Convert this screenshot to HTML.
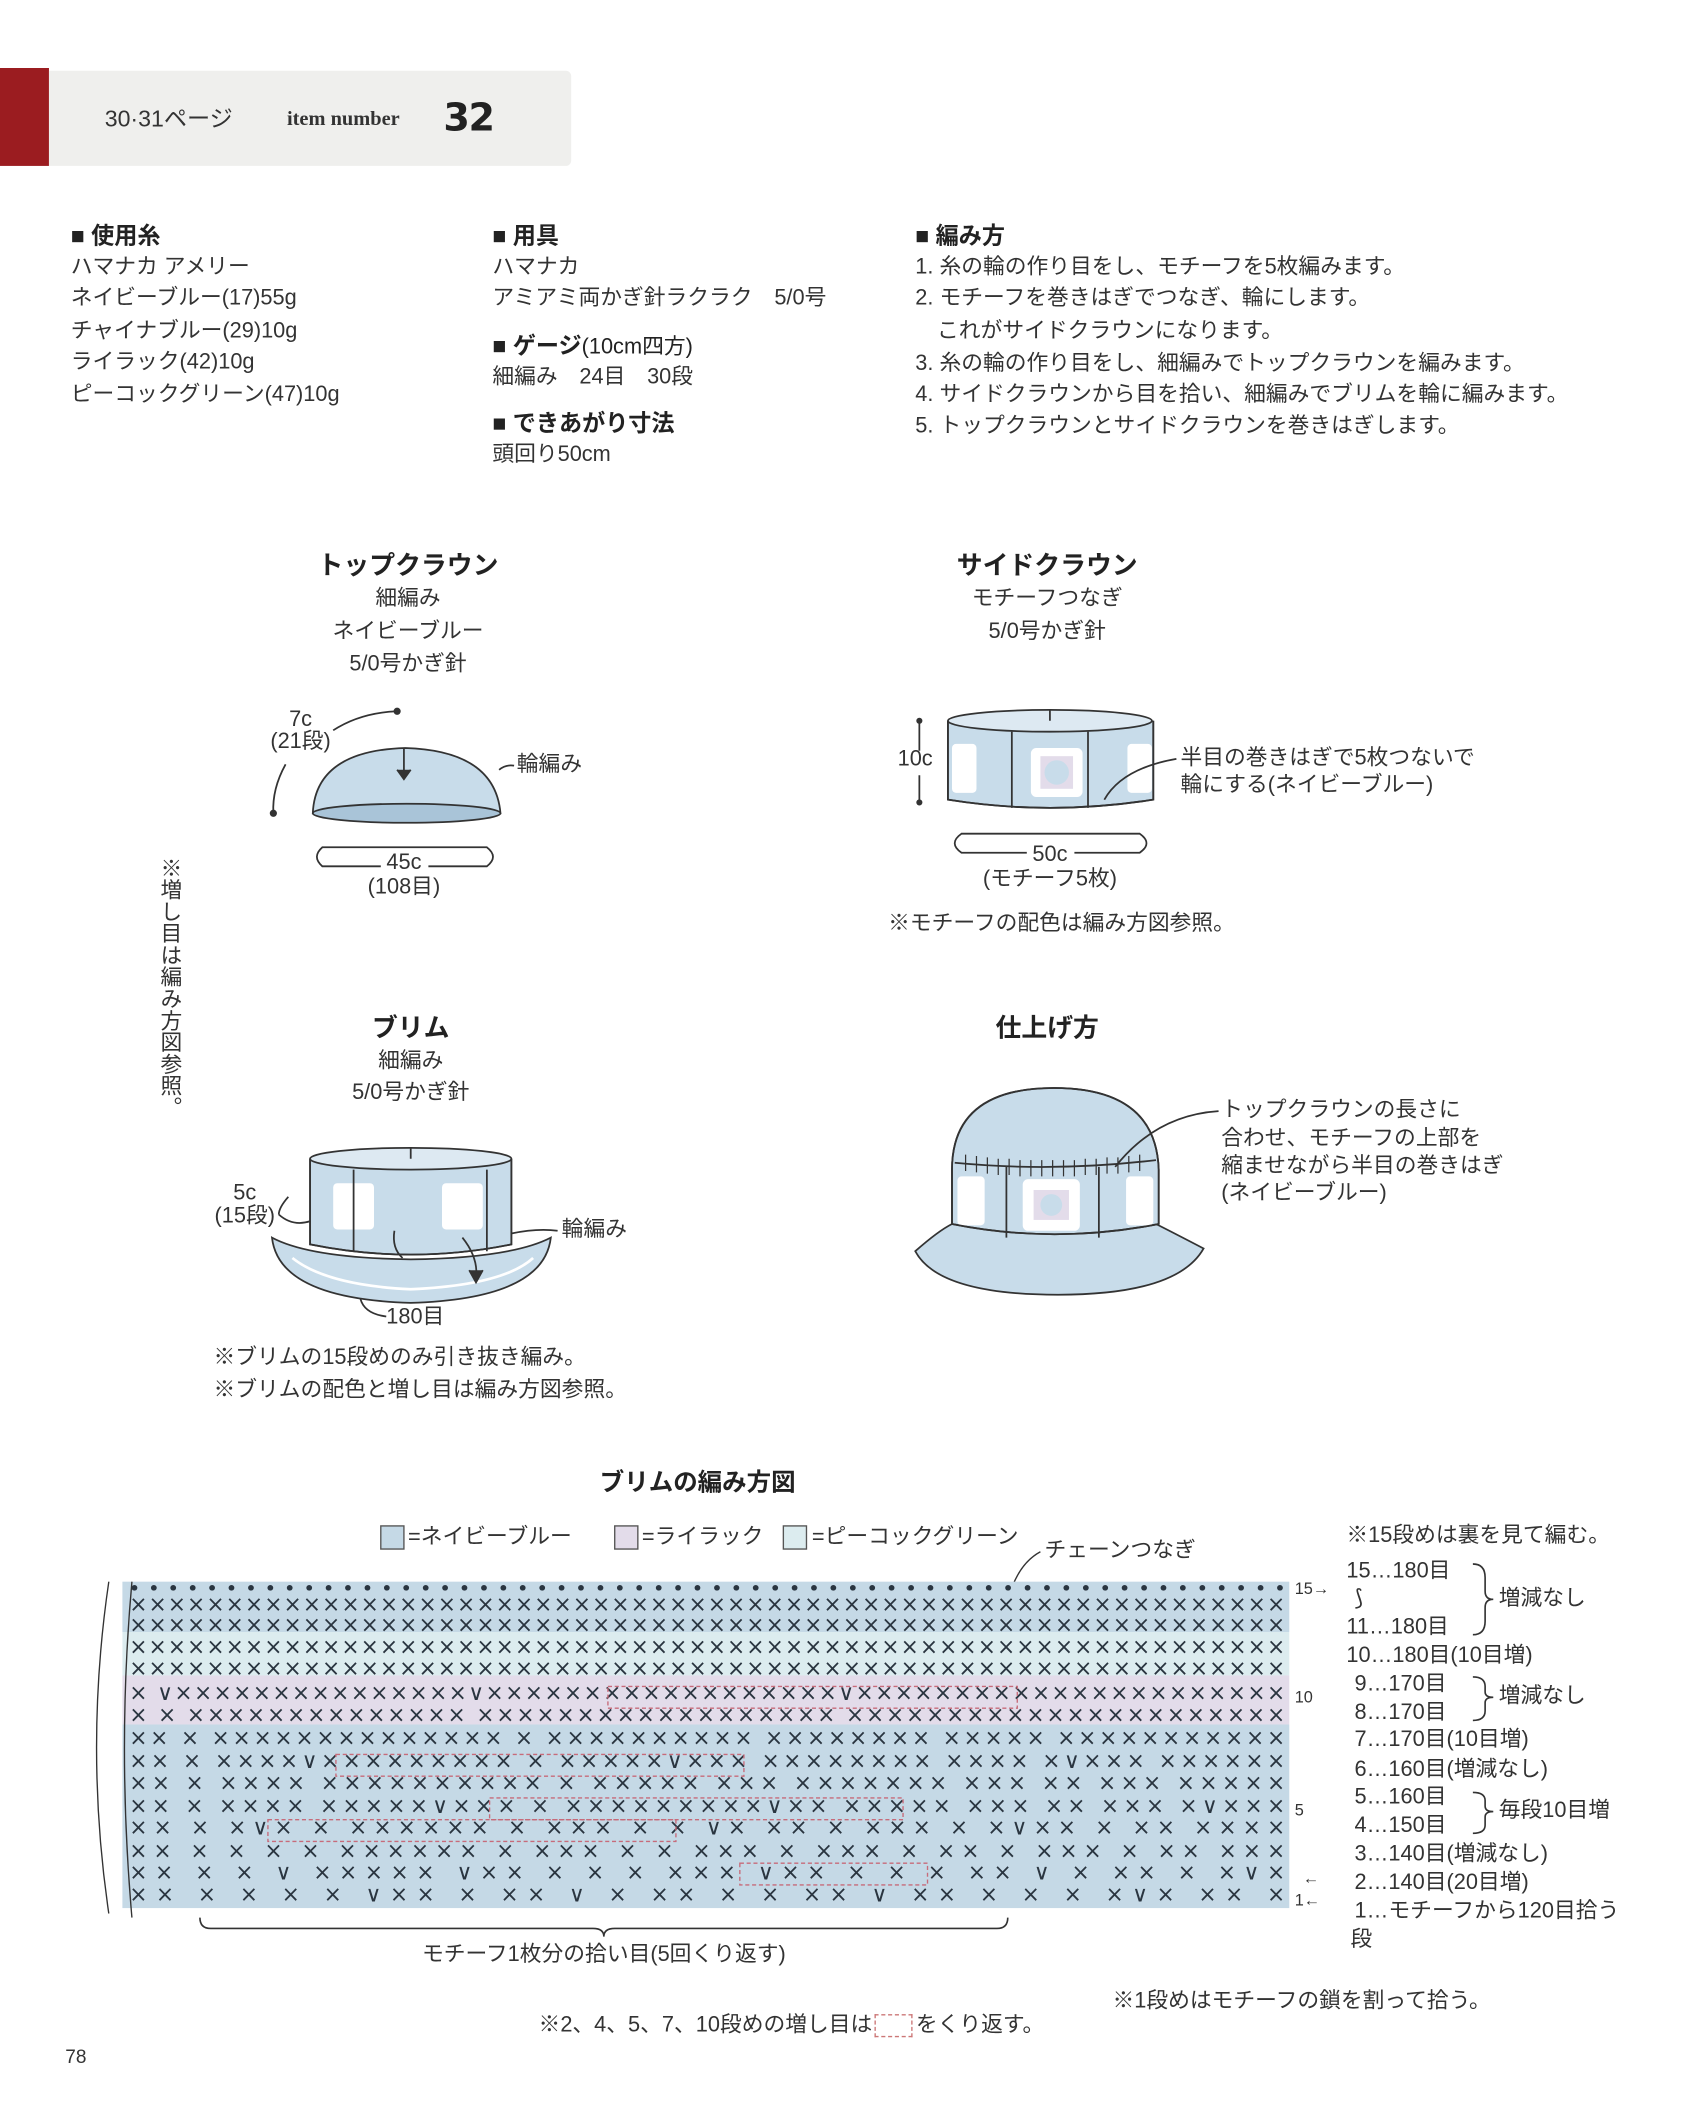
<!DOCTYPE html>
<html><head><meta charset="utf-8"><style>
html,body{margin:0;padding:0;background:#fff;}
#w{width:1250px;height:1562.5px;position:relative;transform:scale(1.36);transform-origin:0 0;font-family:"Liberation Sans","Noto Sans CJK JP",sans-serif;color:#333;}
.t{position:absolute;white-space:nowrap;font-size:16px;line-height:1;}
.b{font-weight:bold;font-size:17px;color:#222;}
.c{transform:translateX(-50%);text-align:center;}
.h{font-weight:bold;font-size:19px;color:#222;}
svg{position:absolute;left:0;top:0;}
</style></head><body><div id="w">
<div style="position:absolute;left:0;top:50px;width:36px;height:72px;background:#9b1c20"></div>
<div style="position:absolute;left:36px;top:52px;width:384px;height:70px;background:#efefed;border-radius:0 4px 4px 0"></div>
<div class="t" style="left:77px;top:79px;font-size:17px">30·31ページ</div>
<div class="t" style="left:211px;top:81px;font-family:'Liberation Serif',serif;font-weight:bold;font-size:15px">item number</div>
<div class="t" style="left:326px;top:73px;font-family:'DejaVu Sans',sans-serif;font-weight:900;font-size:28px;color:#222;letter-spacing:-1px">32</div>

<div class="t b" style="left:52px;top:165px">■ 使用糸</div>
<div class="t" style="left:52px;top:189px">ハマナカ アメリー</div>
<div class="t" style="left:52px;top:212px">ネイビーブルー(17)55g</div>
<div class="t" style="left:52px;top:236px">チャイナブルー(29)10g</div>
<div class="t" style="left:52px;top:259px">ライラック(42)10g</div>
<div class="t" style="left:52px;top:283px">ピーコックグリーン(47)10g</div>

<div class="t b" style="left:362px;top:165px">■ 用具</div>
<div class="t" style="left:362px;top:189px">ハマナカ</div>
<div class="t" style="left:362px;top:212px">アミアミ両かぎ針ラクラク　5/0号</div>
<div class="t b" style="left:362px;top:246px">■ ゲージ<span style="font-weight:normal;font-size:16px">(10cm四方)</span></div>
<div class="t" style="left:362px;top:270px">細編み　24目　30段</div>
<div class="t b" style="left:362px;top:303px">■ できあがり寸法</div>
<div class="t" style="left:362px;top:327px">頭回り50cm</div>

<div class="t b" style="left:673px;top:165px">■ 編み方</div>
<div class="t" style="left:673px;top:189px">1. 糸の輪の作り目をし、モチーフを5枚編みます。</div>
<div class="t" style="left:673px;top:212px">2. モチーフを巻きはぎでつなぎ、輪にします。</div>
<div class="t" style="left:673px;top:236px">　これがサイドクラウンになります。</div>
<div class="t" style="left:673px;top:260px">3. 糸の輪の作り目をし、細編みでトップクラウンを編みます。</div>
<div class="t" style="left:673px;top:283px">4. サイドクラウンから目を拾い、細編みでブリムを輪に編みます。</div>
<div class="t" style="left:673px;top:306px">5. トップクラウンとサイドクラウンを巻きはぎします。</div>

<div class="t h c" style="left:300px;top:407px">トップクラウン</div>
<div class="t c" style="left:300px;top:433px">細編み</div>
<div class="t c" style="left:300px;top:457px">ネイビーブルー</div>
<div class="t c" style="left:300px;top:481px">5/0号かぎ針</div>
<div class="t h c" style="left:770px;top:407px">サイドクラウン</div>
<div class="t c" style="left:770px;top:433px">モチーフつなぎ</div>
<div class="t c" style="left:770px;top:457px">5/0号かぎ針</div>

<div class="t" style="left:115px;top:630px;writing-mode:vertical-rl;font-size:16px">※増し目は編み方図参照。</div>

<div class="t c" style="left:221px;top:522px">7c</div>
<div class="t c" style="left:221px;top:538px">(21段)</div>
<div class="t" style="left:380px;top:555px">輪編み</div>
<div class="t c" style="left:297px;top:627px">45c</div>
<div class="t c" style="left:297px;top:645px">(108目)</div>

<div class="t" style="left:660px;top:551px">10c</div>
<div class="t" style="left:868px;top:550px">半目の巻きはぎで5枚つないで</div>
<div class="t" style="left:868px;top:570px">輪にする(ネイビーブルー)</div>
<div class="t c" style="left:772px;top:621px">50c</div>
<div class="t c" style="left:772px;top:639px">(モチーフ5枚)</div>
<div class="t" style="left:653px;top:672px">※モチーフの配色は編み方図参照。</div>

<div class="t h c" style="left:302px;top:747px">ブリム</div>
<div class="t c" style="left:302px;top:773px">細編み</div>
<div class="t c" style="left:302px;top:796px">5/0号かぎ針</div>
<div class="t h c" style="left:770px;top:747px">仕上げ方</div>

<div class="t c" style="left:180px;top:870px">5c</div>
<div class="t c" style="left:180px;top:887px">(15段)</div>
<div class="t c" style="left:296px;top:876px;background:#c8dcea">120目</div>
<div class="t c" style="left:296px;top:894px">拾う</div>
<div class="t" style="left:413px;top:897px">輪編み</div>
<div class="t" style="left:284px;top:961px">180目</div>
<div class="t" style="left:157px;top:991px">※ブリムの15段めのみ引き抜き編み。</div>
<div class="t" style="left:157px;top:1015px">※ブリムの配色と増し目は編み方図参照。</div>

<div class="t" style="left:898px;top:809px">トップクラウンの長さに</div>
<div class="t" style="left:898px;top:830px">合わせ、モチーフの上部を</div>
<div class="t" style="left:898px;top:850px">縮ませながら半目の巻きはぎ</div>
<div class="t" style="left:898px;top:870px">(ネイビーブルー)</div>

<div class="t b c" style="left:513px;top:1081px;font-size:18px">ブリムの編み方図</div>
<div class="t" style="left:300px;top:1123px">=ネイビーブルー</div>
<div class="t" style="left:472px;top:1123px">=ライラック</div>
<div class="t" style="left:597px;top:1123px">=ピーコックグリーン</div>
<div class="t" style="left:768px;top:1133px">チェーンつなぎ</div>

<div class="t" style="left:990px;top:1122px">※15段めは裏を見て編む。</div>
<div class="t" style="left:990px;top:1148px">15…180目</div>
<div class="t" style="left:996px;top:1168px">⟆</div>
<div class="t" style="left:990px;top:1189px">11…180目</div>
<div class="t" style="left:990px;top:1210px">10…180目(10目増)</div>
<div class="t" style="left:996px;top:1231px">9…170目</div>
<div class="t" style="left:996px;top:1252px">8…170目</div>
<div class="t" style="left:996px;top:1272px">7…170目(10目増)</div>
<div class="t" style="left:996px;top:1294px">6…160目(増減なし)</div>
<div class="t" style="left:996px;top:1314px">5…160目</div>
<div class="t" style="left:996px;top:1335px">4…150目</div>
<div class="t" style="left:996px;top:1356px">3…140目(増減なし)</div>
<div class="t" style="left:996px;top:1377px">2…140目(20目増)</div>
<div class="t" style="left:996px;top:1398px">1…モチーフから120目拾う</div>
<div class="t" style="left:993px;top:1419px">段</div>
<div class="t" style="left:1102px;top:1168px">増減なし</div>
<div class="t" style="left:1102px;top:1240px">増減なし</div>
<div class="t" style="left:1102px;top:1324px">毎段10目増</div>

<div class="t" style="left:952px;top:1162px;font-size:12px">15→</div>
<div class="t" style="left:952px;top:1242px;font-size:12px">10</div>
<div class="t" style="left:952px;top:1325px;font-size:12px">5</div>
<div class="t" style="left:958px;top:1375px;font-size:12px">←</div>
<div class="t" style="left:952px;top:1391px;font-size:12px">1←</div>

<div class="t c" style="left:444px;top:1430px">モチーフ1枚分の拾い目(5回くり返す)</div>
<div class="t" style="left:818px;top:1464px">※1段めはモチーフの鎖を割って拾う。</div>
<div class="t" style="left:396px;top:1481px">※2、4、5、7、10段めの増し目は<span style="display:inline-block;width:26px;height:15px;border:1px dashed #c77;vertical-align:middle;margin:0 2px"></span>をくり返す。</div>
<div class="t" style="left:48px;top:1505px;font-size:14px">78</div>

<svg width="1250" height="1563" viewBox="0 0 1250 1563">
<g stroke="#333" stroke-width="1.3" fill="none">
<path d="M230 598 Q232 552 298 550 Q364 552 368 598 Z" fill="#c8dcea"/>
<ellipse cx="299" cy="598" rx="69" ry="7" fill="#a9c4d8"/>
<path d="M297 550 V572" /><path d="M292 566 L297 573 L302 566" fill="#333"/>
<path d="M245 537 Q265 524 292 523"/><circle cx="292" cy="523" r="2" fill="#333"/>
<path d="M210 562 Q200 580 201 598"/><circle cx="201" cy="598" r="2" fill="#333"/>
<path d="M367 566 Q372 562 378 563"/>
<path d="M280 637 H237 Q229 630 237 623 H358 Q367 630 358 637 H315"/>
<path d="M697 530 V588 Q772 600 848 588 V530" fill="#c8dcea"/>
<ellipse cx="772" cy="530" rx="75" ry="8" fill="#dde9f2"/>
<rect x="758" y="550" width="38" height="36" rx="4" fill="#fff" stroke="none"/>
<rect x="765" y="556" width="24" height="24" fill="#e3dcea" stroke="none"/>
<circle cx="777" cy="568" r="9" fill="#c8dcea" stroke="none"/>
<rect x="700" y="547" width="18" height="36" rx="3" fill="#fff" stroke="none"/>
<rect x="829" y="547" width="18" height="36" rx="3" fill="#fff" stroke="none"/>
<path d="M697 530 V588 Q772 600 848 588 V530"/>
<path d="M744 538 V594 M800 538 V594 M772 522 V530"/>
<path d="M812 588 Q825 565 865 558"/>
<path d="M676 530 V552 M676 570 V590"/><circle cx="676" cy="530" r="1.6" fill="#333"/><circle cx="676" cy="590" r="1.6" fill="#333"/>
<path d="M755 627 H707 Q697 620 707 613 H838 Q848 620 838 627 H790"/>
<path d="M200 910 Q205 955 302 958 Q400 955 405 910 Q376 925 302 926 Q228 925 200 910Z" fill="#c8dcea"/>
<path d="M215 925 Q240 945 302 948 Q370 945 392 925" stroke="#fff" stroke-width="2"/>
<path d="M228 852 V915 Q302 930 376 915 V852" fill="#c8dcea"/>
<ellipse cx="302" cy="852" rx="74" ry="8" fill="#dde9f2"/>
<rect x="245" y="870" width="30" height="34" rx="3" fill="#fff" stroke="none"/>
<rect x="325" y="870" width="30" height="34" rx="3" fill="#fff" stroke="none"/>
<path d="M228 852 V915 Q302 930 376 915 V852"/>
<path d="M260 860 V920 M358 860 V920 M302 844 V852"/>
<path d="M205 893 Q215 902 228 898 M212 880 Q205 888 205 893"/>
<path d="M340 910 Q352 925 350 940"/><path d="M345 934 L350 943 L355 934" fill="#333"/>
<path d="M290 905 Q288 918 296 925"/>
<path d="M376 907 Q395 903 410 905"/>
<path d="M265 955 Q268 966 284 968"/>
<path d="M673 920 Q690 952 778 952 Q866 952 885 918 Q860 905 850 900 L700 900 Q690 905 673 920Z" fill="#c8dcea"/>
<path d="M700 900 V860 Q700 800 775 800 Q850 800 852 860 V900 Q775 915 700 900Z" fill="#c8dcea"/>
<rect x="752" y="867" width="42" height="38" rx="4" fill="#fff" stroke="none"/>
<rect x="760" y="875" width="26" height="22" fill="#e3dcea" stroke="none"/>
<circle cx="773" cy="886" r="8" fill="#c8dcea" stroke="none"/>
<rect x="704" y="865" width="20" height="36" rx="3" fill="#fff" stroke="none"/>
<rect x="828" y="865" width="20" height="36" rx="3" fill="#fff" stroke="none"/>
<path d="M700 900 V860 Q700 800 775 800 Q850 800 852 860 V900"/>
<path d="M702 855 Q775 862 850 853"/>
<path d="M740 858 V910 M808 858 V910"/>
<path d="M710 849 V861 M718 850 V862 M726 851 V863 M734 852 V864 M742 852 V864 M750 853 V865 M758 853 V865 M766 853 V865 M774 853 V865 M782 853 V865 M790 853 V865 M798 852 V864 M806 852 V864 M814 851 V863 M822 851 V863 M830 850 V862 M838 849 V861" stroke-width="0.9"/>
<path d="M700 900 Q775 915 852 900"/>
<path d="M820 858 Q850 820 896 817"/>
</g>
<rect x="280" y="1122" width="17" height="17" fill="#c5d9e6" stroke="#555"/>
<rect x="452" y="1122" width="17" height="17" fill="#e3dcea" stroke="#555"/>
<rect x="576" y="1122" width="17" height="17" fill="#dcecef" stroke="#555"/>
<path d="M745 1165 Q752 1148 765 1141" stroke="#333" fill="none"/>
<rect x="90" y="1163" width="858" height="37" fill="#c5d9e6"/>
<rect x="90" y="1200" width="858" height="32" fill="#dcecef"/>
<rect x="90" y="1232" width="858" height="36" fill="#e3dcea"/>
<rect x="90" y="1268" width="858" height="135" fill="#c5d9e6"/>
<path d="M80 1163 Q62 1285 80 1407 M97 1163 Q86 1285 97 1410" stroke="#333" fill="none"/>
<g font-family="DejaVu Sans,sans-serif" font-size="16" fill="#2a3540" style="white-space:pre" xml:space="preserve">
<text x="95" y="1172" textLength="850" font-size="12" font-weight="bold">••••••••••••••••••••••••••••••••••••••••••••••••••••••••••••</text>
<text x="95" y="1185" textLength="850">××××××××××××××××××××××××××××××××××××××××××××××××××××××××××××</text>
<text x="95" y="1200" textLength="850">××××××××××××××××××××××××××××××××××××××××××××××××××××××××××××</text>
<text x="95" y="1216" textLength="850">××××××××××××××××××××××××××××××××××××××××××××××××××××××××××××</text>
<text x="95" y="1232" textLength="850">××××××××××××××××××××××××××××××××××××××××××××××××××××××××××××</text>
<text x="95" y="1250" textLength="850">× ∨×××××××××××××××∨××××××××××××××××××∨××××××××××××××××××××××</text>
<text x="95" y="1266" textLength="850">× × ×××××××××××××× ×××××××××××××××××× ××××××××××××××××××××××</text>
<text x="95" y="1283" textLength="850">×× × ×××××××××××××× × ×××××××××× ×××××××× ××××× ×××××××××××</text>
<text x="95" y="1300" textLength="850">×× × ××××∨××××××××× × ×××××∨××× ×××××××× ×××× ×∨××× ××××××</text>
<text x="95" y="1316" textLength="850">×× × ×××× ×××××××××× × ××××× ××× ××××××× ××× ×× ××× ×××××</text>
<text x="95" y="1333" textLength="850">×× × ×××× ×××××∨××× × ×××××××××∨×× ××××× ××× ×× ××× ×∨×××</text>
<text x="95" y="1349" textLength="850">×× × ×∨× × ×××××× × ××× × × ∨× ×× × ××× × ×∨×× × ×× ××××</text>
<text x="95" y="1366" textLength="850">×× × × × × ×××××× × ××× × × ××× × ××× × ×× × ××× × ×× ×××</text>
<text x="95" y="1382" textLength="850">×× × × ∨ ××××× ∨×× × × × ××× ∨×× × × × ×× ∨ × ×× × ×∨×</text>
<text x="95" y="1398" textLength="850">×× × × × × ∨×× × ×× ∨ × ×× × × ×× ∨ ×× × × × ×∨× ×× ×</text>
</g>
<g fill="none" stroke="#c76b7a" stroke-dasharray="3 2" stroke-width="1">
<rect x="447" y="1240" width="301" height="16"/>
<rect x="247" y="1290" width="300" height="16"/>
<rect x="360" y="1322" width="304" height="16"/>
<rect x="197" y="1338" width="300" height="16"/>
<rect x="544" y="1370" width="138" height="16"/>
</g>
<g stroke="#333" fill="none" stroke-width="1.2">
<path d="M147 1410 Q147 1418 155 1418 H436 Q444 1418 444 1424 Q444 1418 452 1418 H733 Q741 1418 741 1410"/>
<path d="M1083 1150 Q1092 1150 1092 1160 V1170 Q1092 1176 1098 1176 Q1092 1176 1092 1182 V1192 Q1092 1202 1083 1202"/>
<path d="M1083 1233 Q1092 1233 1092 1240 V1244 Q1092 1248 1098 1248 Q1092 1248 1092 1252 V1258 Q1092 1265 1083 1265"/>
<path d="M1083 1318 Q1092 1318 1092 1324 V1328 Q1092 1332 1098 1332 Q1092 1332 1092 1336 V1342 Q1092 1348 1083 1348"/>
</g>
</svg>
</div></body></html>
